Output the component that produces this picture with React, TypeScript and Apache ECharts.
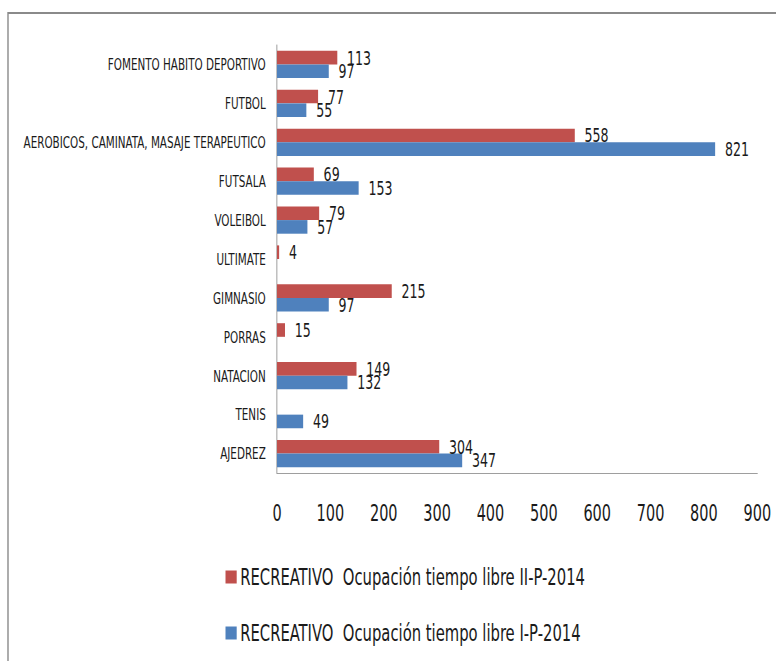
import React, { useEffect, useRef } from "react";
import * as echarts from "echarts";

const categories = [
  "FOMENTO HABITO DEPORTIVO",
  "FUTBOL",
  "AEROBICOS, CAMINATA, MASAJE TERAPEUTICO",
  "FUTSALA",
  "VOLEIBOL",
  "ULTIMATE",
  "GIMNASIO",
  "PORRAS",
  "NATACION",
  "TENIS",
  "AJEDREZ",
];

const seriesIIName = "RECREATIVO  Ocupación tiempo libre II-P-2014";
const seriesIName = "RECREATIVO  Ocupación tiempo libre I-P-2014";

const valuesII: (number | null)[] = [113, 77, 558, 69, 79, 4, 215, 15, 149, null, 304];
const valuesI: (number | null)[] = [97, 55, 821, 153, 57, null, 97, null, 132, 49, 347];

const xTicks = { min: 0, max: 900, interval: 100 };

const SX = 0.7;
const W = 776 / SX;
const H = 663;
const FONT = "'DejaVu Sans Condensed', 'Liberation Sans Narrow', sans-serif";

export default function App() {
  const ref = useRef<HTMLDivElement>(null);
  useEffect(() => {
    if (!ref.current) return;
    const chart = echarts.init(ref.current, undefined, { renderer: "svg" });
    const labelCommon = {
      show: true,
      position: "right" as const,
      distance: 14,
      fontSize: 20,
      fontFamily: FONT,
      color: "#1a1a1a",
    };
    chart.setOption({
      animation: false,
      backgroundColor: "#ffffff",
      textStyle: { fontFamily: FONT },
      grid: {
        left: 277 / SX,
        right: W - 757 / SX,
        top: 45,
        bottom: H - 473,
        containLabel: false,
        outerBoundsMode: "none",
      },
      xAxis: {
        type: "value",
        min: xTicks.min,
        max: xTicks.max,
        interval: xTicks.interval,
        axisLine: { show: true, lineStyle: { color: "#8c8c8c", width: 1 } },
        axisTick: { show: false },
        splitLine: { show: false },
        axisLabel: { fontSize: 23, fontFamily: FONT, color: "#1a1a1a", margin: 29 },
      },
      yAxis: {
        type: "category",
        inverse: true,
        data: categories,
        axisLine: { show: true, lineStyle: { color: "#8c8c8c", width: 1 } },
        axisTick: { show: false },
        axisLabel: { fontSize: 16.5, fontFamily: FONT, color: "#1a1a1a", margin: 16 },
      },
      legend: {
        orient: "vertical",
        left: 222 / SX,
        top: 560,
        icon: "rect",
        itemWidth: 16,
        itemHeight: 13,
        itemGap: 32,
        textStyle: { fontSize: 23.5, lineHeight: 24, fontFamily: FONT, color: "#1a1a1a" },
        data: [seriesIIName, seriesIName],
      },
      series: [
        {
          name: seriesIIName,
          type: "bar",
          data: valuesII,
          barCategoryGap: "30%",
          barGap: "0%",
          itemStyle: { color: "#C0504D" },
          label: labelCommon,
        },
        {
          name: seriesIName,
          type: "bar",
          data: valuesI,
          barCategoryGap: "30%",
          barGap: "0%",
          itemStyle: { color: "#4F81BD" },
          label: labelCommon,
        },
      ],
      graphic: [
        {
          type: "polyline",
          silent: true,
          shape: { points: [[W, 13], [8 / SX, 13], [8 / SX, 661]] },
          style: { stroke: "#8a8a8a", lineWidth: 2, fill: "none" },
        },
      ],
    });
    return () => chart.dispose();
  }, []);
  return (
    <div
      style={{
        position: "fixed",
        left: 0,
        top: 0,
        width: 776,
        height: H,
        overflow: "hidden",
        background: "#fff",
      }}
    >
      <div
        ref={ref}
        style={{
          width: W,
          height: H,
          transform: `scaleX(${SX})`,
          transformOrigin: "0 0",
        }}
      />
    </div>
  );
}
